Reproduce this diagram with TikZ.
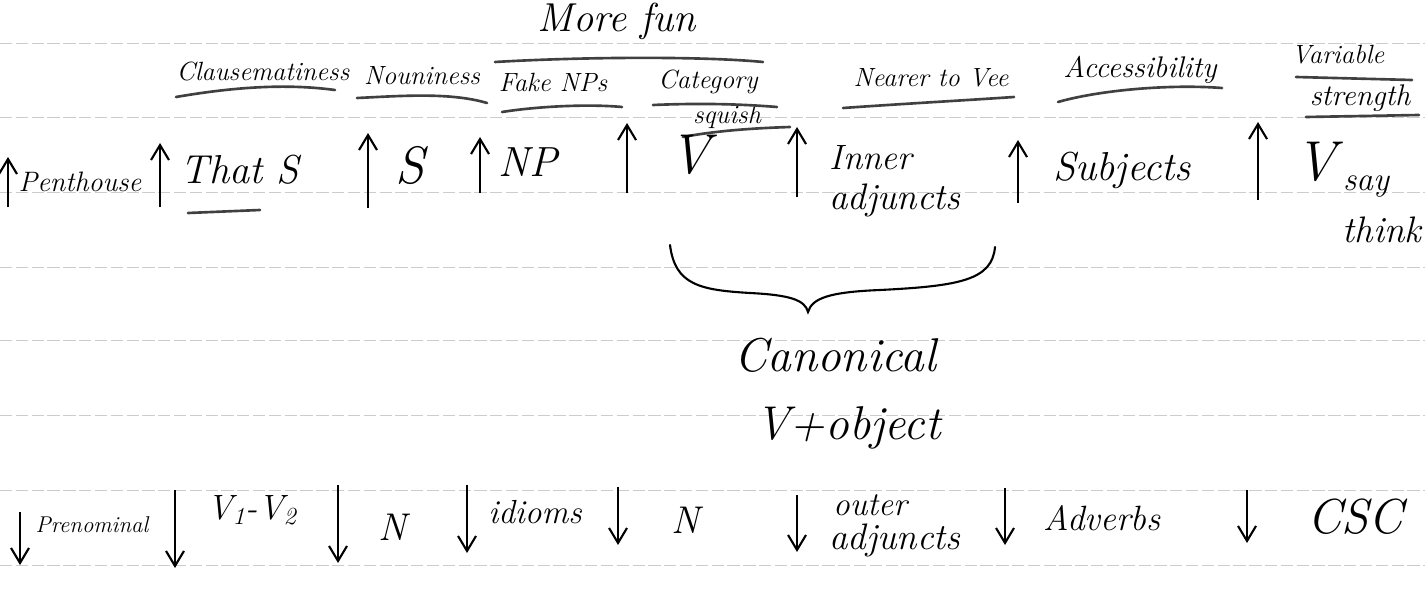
\documentclass[tikz,border=0pt]{standalone}
\usetikzlibrary{arrows.meta,positioning}

\begin{document}
\begin{tikzpicture}[x=0.02cm,y=-0.02cm,
    hw/.style={inner sep=0pt, font=\fontsize{#1}{#1}\selectfont\itshape},
    ruled/.style={gray!40, line width=0.5pt, dash pattern=on 7pt off 2pt},
    uline/.style={line width=1.5pt, black!75, line cap=round},
    arr/.style={-{Straight Barb[length=3mm,width=3.6mm]}, line width=1.2pt}]
  \useasboundingbox (0,0) rectangle (1425,601);
  % ruled paper
  \foreach \y in {43,117,192,267,340,415,490,565}
    \draw[ruled] (0,\y) -- (1425,\y);

  % title and column headings
  \node[hw=23, anchor=north] (more) at (617,3) {More fun};
  \node[hw=15] (clause) at (263,72) {Clausematiness};
  \node[hw=15] (noun) at (422,76) {Nouniness};
  \node[hw=15] (fake) at (553,82) {Fake NPs};
  \node[hw=15] (cat) at (708,82) {Category};
  \node[hw=15] (squish) at (727,117) {squish};
  \node[hw=15] (nearer) at (931,78) {Nearer to Vee};
  \node[hw=17] (access) at (1140,70) {Accessibility};
  \node[hw=15] (variable) at (1338,55) {Variable};
  \node[hw=17] (strength) at (1360,98) {strength};
  % underlines
  \draw[uline] (176,97) .. controls (240,86) and (290,84) .. (335,90);
  \draw[uline] (357,98) .. controls (400,96) and (450,92) .. (487,103);
  \draw[uline] (502,112) .. controls (540,106) and (590,104) .. (622,107);
  \draw[uline] (495,62) .. controls (580,57) and (700,56) .. (763,62);
  \draw[uline] (653,105) .. controls (700,103) and (740,104) .. (777,107);
  \draw[uline] (683,137) .. controls (720,130) and (760,128) .. (790,127);
  \draw[uline] (843,108) .. controls (900,104) and (970,100) .. (1014,97);
  \draw[uline] (1058,102) .. controls (1100,90) and (1170,84) .. (1222,88);
  \draw[uline] (1296,77) -- (1412,80);
  \draw[uline] (1306,117) -- (1419,115);

  % upper row
  \node[hw=16] (penthouse) at (80,182) {Penthouse};
  \node[hw=23] (thatS) at (240,170) {That S};
  \draw[uline] (188,213) -- (260,210);
  \node[hw=30] (S) at (410,166) {S};
  \node[hw=24] (NP) at (528,162) {NP};
  \node[hw=32] (V) at (690,155) {V};
  \node[hw=20] (inner) at (871,158) {Inner};
  \node[hw=21] (inneradj) at (895,200) {adjuncts};
  \node[hw=23] (subjects) at (1122,170) {Subjects};
  \node[hw=32] (Vb) at (1316,162) {V};
  \node[hw=19] (say) at (1366,187) {say};
  \node[hw=21] (think) at (1382,230) {think};
  \foreach \n/\x/\b/\t in {0/8/207/157, 1/160/207/143, 2/368/208/133, 3/480/193/137,
      4/627/193/123, 5/797/197/127, 6/1018/203/140, 7/1258/200/122} {
    \coordinate (up\n-b) at (\x,\b);
    \coordinate (up\n-t) at (\x,\t);
    \draw[arr] (up\n-b) -- (up\n-t);
  }

  % brace
  \draw[line width=1.2pt, line cap=round] (670,245) .. controls (675,285) and (700,290) .. (750,293)
    .. controls (790,295) and (805,300) .. (808,312)
    .. controls (812,298) and (830,292) .. (880,290)
    .. controls (960,286) and (992,280) .. (995,247);
  \node[hw=27] (canonical) at (835,355) {Canonical};
  \node[hw=27] (vobject) at (848,428) {V+object};

  % lower row
  \node[hw=13] (prenom) at (92,525) {Prenominal};
  \node[hw=20] (vv) at (252,510) {V\textsubscript{1}-V\textsubscript{2}};
  \node[hw=22] (N) at (393,527) {N};
  \node[hw=19] (idioms) at (535,512) {idioms};
  \node[hw=22] (Nb) at (686,520) {N};
  \node[hw=19] (outer) at (870,505) {outer};
  \node[hw=21] (outeradj) at (895,540) {adjuncts};
  \node[hw=20] (adverbs) at (1102,518) {Adverbs};
  \node[hw=28] (csc) at (1355,517) {CSC};
  \foreach \n/\x/\t/\b in {1/20/512/565, 2/175/490/568, 3/338/485/563, 4/467/485/553,
      5/618/487/545, 6/797/495/552, 7/1005/488/545, 8/1247/490/543} {
    \coordinate (dn\n-t) at (\x,\t);
    \coordinate (dn\n-b) at (\x,\b);
    \draw[arr] (dn\n-t) -- (dn\n-b);
  }
\end{tikzpicture}
\end{document}
